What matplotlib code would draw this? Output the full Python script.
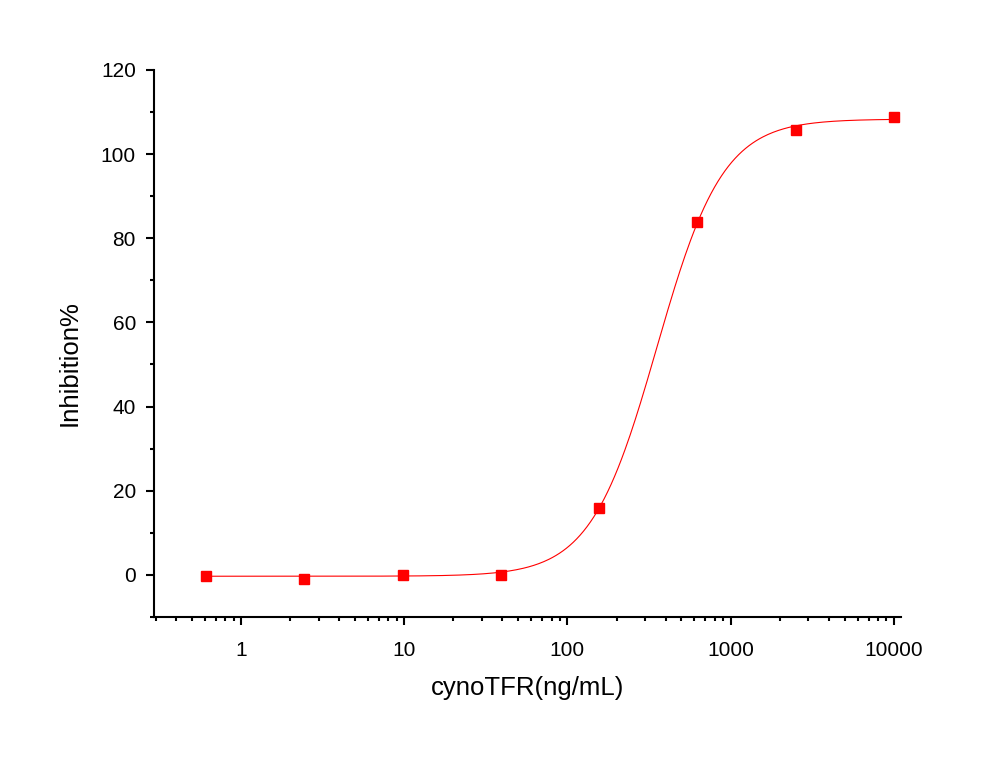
import matplotlib
matplotlib.use("Agg")
import matplotlib.pyplot as plt
import matplotlib.ticker as mticker
import numpy as np

# measured points (4-fold dilution series)
conc = [0.61, 2.44, 9.77, 39.06, 156.25, 625, 2500, 10000]
inhibition = [-0.2, -0.9, 0.0, 0.1, 15.8, 83.8, 105.7, 108.8]

# logistic fit parameters: bottom, top, EC50, hill slope
fit_bottom = -0.3
fit_top = 108.3
fit_ec50 = 353.0
fit_hill = 2.14

plt.rcParams['font.family'] = ['Liberation Sans', 'DejaVu Sans']


def main():
    fig = plt.figure(figsize=(9.81, 7.59), dpi=100)
    ax = fig.add_axes([0.157, 0.187, 0.761, 0.721])

    xs = np.logspace(np.log10(conc[0]), np.log10(conc[-1]), 400)
    ys = fit_bottom + (fit_top - fit_bottom) / (1 + (fit_ec50 / xs) ** fit_hill)
    ax.plot(xs, ys, color='red', lw=0.8)
    ax.plot(conc, inhibition, 's', color='red', ms=7.2, mec='red')

    ax.set_xscale('log')
    ax.set_xlim(0.293, 11000)
    ax.set_ylim(-10, 120)
    ax.xaxis.set_major_formatter(mticker.FuncFormatter(lambda v, p: '%g' % v))
    ax.xaxis.set_minor_locator(mticker.LogLocator(base=10, subs=np.arange(2, 10)))
    ax.xaxis.set_minor_formatter(mticker.NullFormatter())
    ax.yaxis.set_major_locator(mticker.MultipleLocator(20))
    ax.yaxis.set_minor_locator(mticker.MultipleLocator(10))

    for s in ['top', 'right']:
        ax.spines[s].set_visible(False)
    for s in ['left', 'bottom']:
        ax.spines[s].set_linewidth(1.5)

    ax.tick_params(which='major', direction='out', length=6, width=1.5, labelsize=15)
    ax.tick_params(which='minor', direction='out', length=3, width=1.5)
    ax.tick_params(axis='x', which='major', pad=11)
    ax.tick_params(axis='y', which='major', pad=7)

    ax.set_xlabel('cynoTFR(ng/mL)', fontsize=18.5, labelpad=12)
    ax.set_ylabel('Inhibition%', fontsize=18.5)
    ax.yaxis.set_label_coords(-0.097, 0.464)

    plt.savefig('out.png', dpi=100)


main()
